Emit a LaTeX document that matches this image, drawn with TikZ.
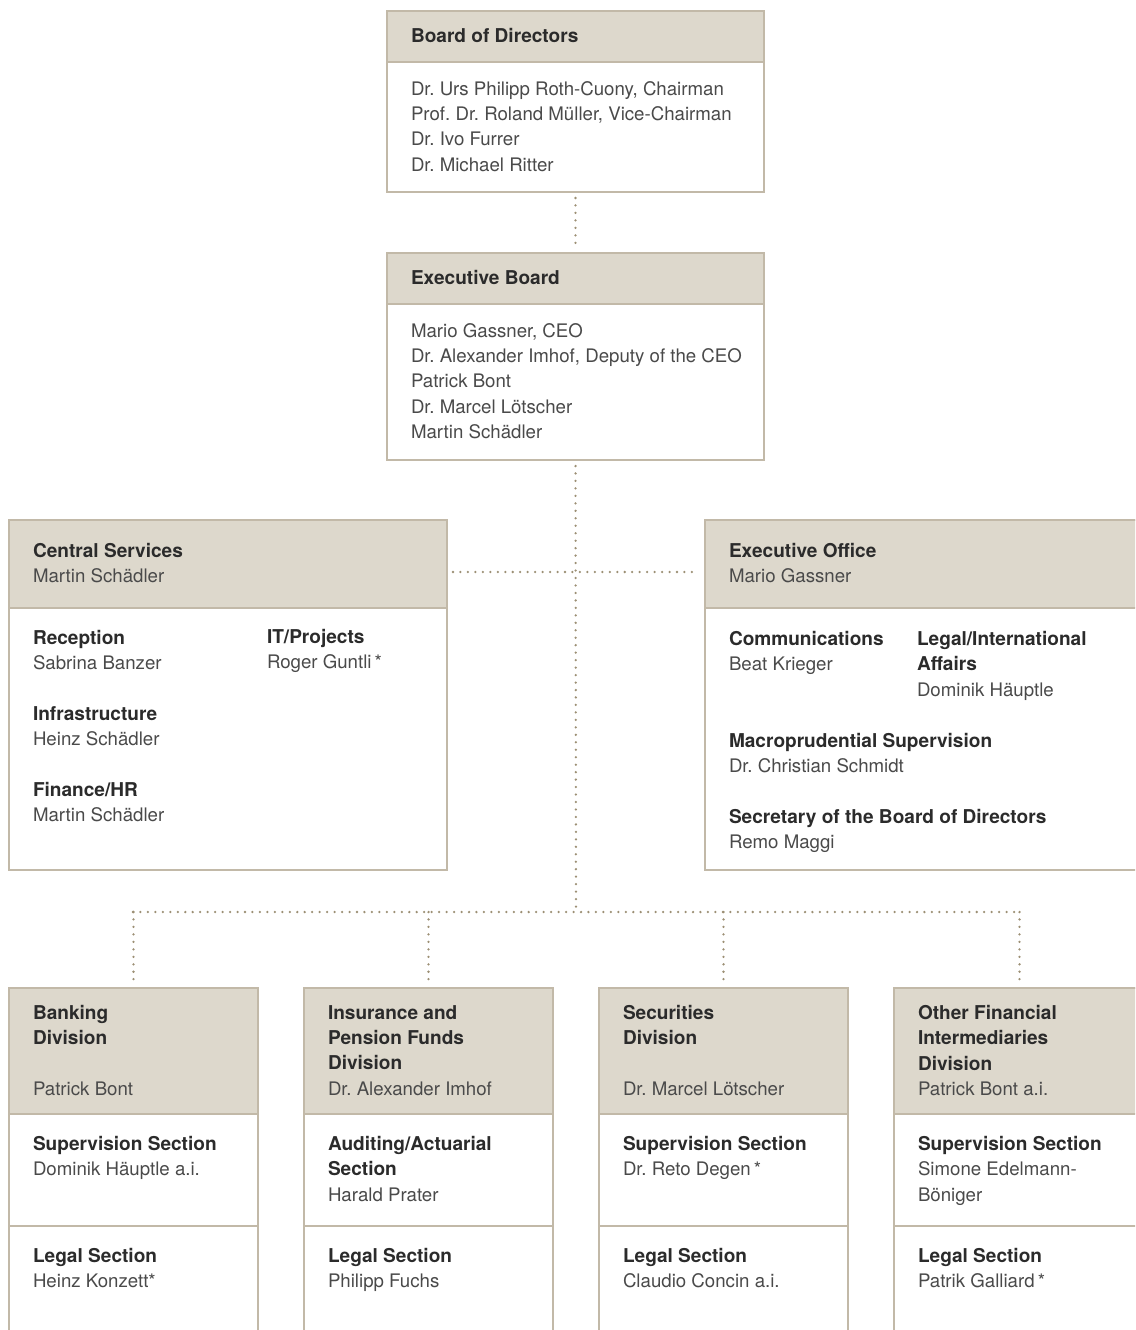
\documentclass[tikz,border=0pt]{standalone}
\usepackage{fontspec}
\setmainfont{TeX Gyre Heros}
\frenchspacing
\definecolor{hdrc}{HTML}{DDD8CC}
\definecolor{bordc}{HTML}{C2B9A8}
\definecolor{dotc}{HTML}{9C8F74}
\definecolor{ttlc}{HTML}{2B2B2B}
\definecolor{nmc}{HTML}{4A4A4A}
\newcommand\tl[1]{{\fontsize{14.3pt}{19pt}\selectfont\bfseries\color{ttlc}#1}}
\tikzset{
  box/.style={draw=bordc, line width=1pt, fill=white, inner sep=0pt, outer sep=0pt, anchor=north west},
  hdr/.style={fill=hdrc, draw=bordc, line width=1pt},
  divline/.style={draw=bordc, line width=1pt},
  conn/.style={draw=dotc, line width=1.9pt, line cap=round, dash pattern=on 0pt off 5.6pt},
  txt/.style={anchor=north west, yshift=9.6pt, inner sep=0pt, outer sep=0pt, align=left, text=nmc,
    font=\fontsize{14pt}{19pt}\selectfont, execute at begin node={\rule{0pt}{13pt}}},
}
\newcommand\orgbox[6]{% name, x1, y1, x2, y2, header bottom
  \node[box, minimum width={(#4-#2)*0.75pt}, minimum height={(#5-#3)*0.75pt}] (#1) at (#2,#3) {};
  \draw[hdr] (#1.north west) rectangle (#4,#6);
}
\begin{document}
\begin{tikzpicture}[x=0.75pt, y=-0.75pt]
\useasboundingbox (0,0) rectangle (1135,1330);
\clip (0,0) rectangle (1135,1330);

% boxes
\orgbox{bod}{387}{11}{764}{192}{62}
\orgbox{eb}{387}{253}{764}{460}{304}
\orgbox{cs}{9}{520}{447}{870}{608}
\orgbox{eo}{705}{520}{1145}{870}{608}
\orgbox{dbank}{9}{988}{258}{1345}{1114}
\orgbox{dins}{304}{988}{553}{1345}{1114}
\orgbox{dsec}{599}{988}{848}{1345}{1114}
\orgbox{doth}{894}{988}{1145}{1345}{1114}
\draw[divline] (dbank.west |- 0,1226) -- (dbank.east |- 0,1226);
\draw[divline] (dins.west |- 0,1226) -- (dins.east |- 0,1226);
\draw[divline] (dsec.west |- 0,1226) -- (dsec.east |- 0,1226);
\draw[divline] (doth.west |- 0,1226) -- (doth.east |- 0,1226);

% connectors
\coordinate (jm) at (576,572);
\coordinate (jb) at (576,912);
\coordinate (jl) at (133,912);
\coordinate (jr) at (1019,912);
\draw[conn, shorten <=4.5pt, shorten >=4.5pt] (bod.south) -- (eb.north);
\draw[conn, shorten <=4.5pt] (eb.south) -- (jb);
\draw[conn, shorten <=4.5pt, shorten >=4.5pt] (cs.east |- jm) -- (eo.west |- jm);
\draw[conn] (jl) -- (jr);
\draw[conn, shorten >=6pt] (dbank.north |- jb) -- (dbank.north);
\draw[conn, shorten >=6pt] (dins.north |- jb) -- (dins.north);
\draw[conn, shorten >=6pt] (dsec.north |- jb) -- (dsec.north);
\draw[conn, shorten >=6pt] (doth.north |- jb) -- (doth.north);

% texts: board
\node[txt] (t1) at (411,38) {\tl{Board of Directors}};
\node[txt] (t2) at (411,94) {Dr. Urs Philipp Roth-Cuony, Chairman\\Prof. Dr. Roland Müller, Vice-Chairman\\Dr. Ivo Furrer\\Dr. Michael Ritter};
\node[txt] (t3) at (411,280) {\tl{Executive Board}};
\node[txt] (t4) at (411,336) {Mario Gassner, CEO\\Dr. Alexander Imhof, Deputy of the CEO\\Patrick Bont\\Dr. Marcel Lötscher\\Martin Schädler};

% central services
\node[txt] (t5) at (33,556) {\tl{Central Services}\\Martin Schädler};
\node[txt] (t6) at (33,643) {\tl{Reception}\\Sabrina Banzer};
\node[txt] (t7) at (33,719) {\tl{Infrastructure}\\Heinz Schädler};
\node[txt] (t8) at (33,795) {\tl{Finance/HR}\\Martin Schädler};
\node[txt] (t9) at (267,642) {\tl{IT/Projects}\\Roger Guntli\,*};

% executive office
\node[txt] (t10) at (729,556) {\tl{Executive Office}\\Mario Gassner};
\node[txt] (t11) at (729,644) {\tl{Communications}\\Beat Krieger};
\node[txt] (t12) at (917,644) {\tl{Legal/International}\\\tl{Affairs}\\Dominik Häuptle};
\node[txt] (t13) at (729,746) {\tl{Macroprudential Supervision}\\Dr. Christian Schmidt};
\node[txt] (t14) at (729,822) {\tl{Secretary of the Board of Directors}\\Remo Maggi};

% divisions
\node[txt] (t15) at (33,1018) {\tl{Banking}\\\tl{Division}\\[19pt]Patrick Bont};
\node[txt] (t16) at (33,1149) {\tl{Supervision Section}\\Dominik Häuptle a.i.};
\node[txt] (t17) at (33,1261) {\tl{Legal Section}\\Heinz Konzett*};

\node[txt] (t18) at (328,1018) {\tl{Insurance and}\\\tl{Pension Funds}\\\tl{Division}\\Dr. Alexander Imhof};
\node[txt] (t19) at (328,1149) {\tl{Auditing/Actuarial}\\\tl{Section}\\Harald Prater};
\node[txt] (t20) at (328,1261) {\tl{Legal Section}\\Philipp Fuchs};

\node[txt] (t21) at (623,1018) {\tl{Securities}\\\tl{Division}\\[19pt]Dr. Marcel Lötscher};
\node[txt] (t22) at (623,1149) {\tl{Supervision Section}\\Dr. Reto Degen\,*};
\node[txt] (t23) at (623,1261) {\tl{Legal Section}\\Claudio Concin a.i.};

\node[txt] (t24) at (918,1018) {\tl{Other Financial}\\\tl{Intermediaries}\\\tl{Division}\\Patrick Bont a.i.};
\node[txt] (t25) at (918,1149) {\tl{Supervision Section}\\Simone Edelmann-\\Böniger};
\node[txt] (t26) at (918,1261) {\tl{Legal Section}\\Patrik Galliard\,*};
\end{tikzpicture}
\end{document}
